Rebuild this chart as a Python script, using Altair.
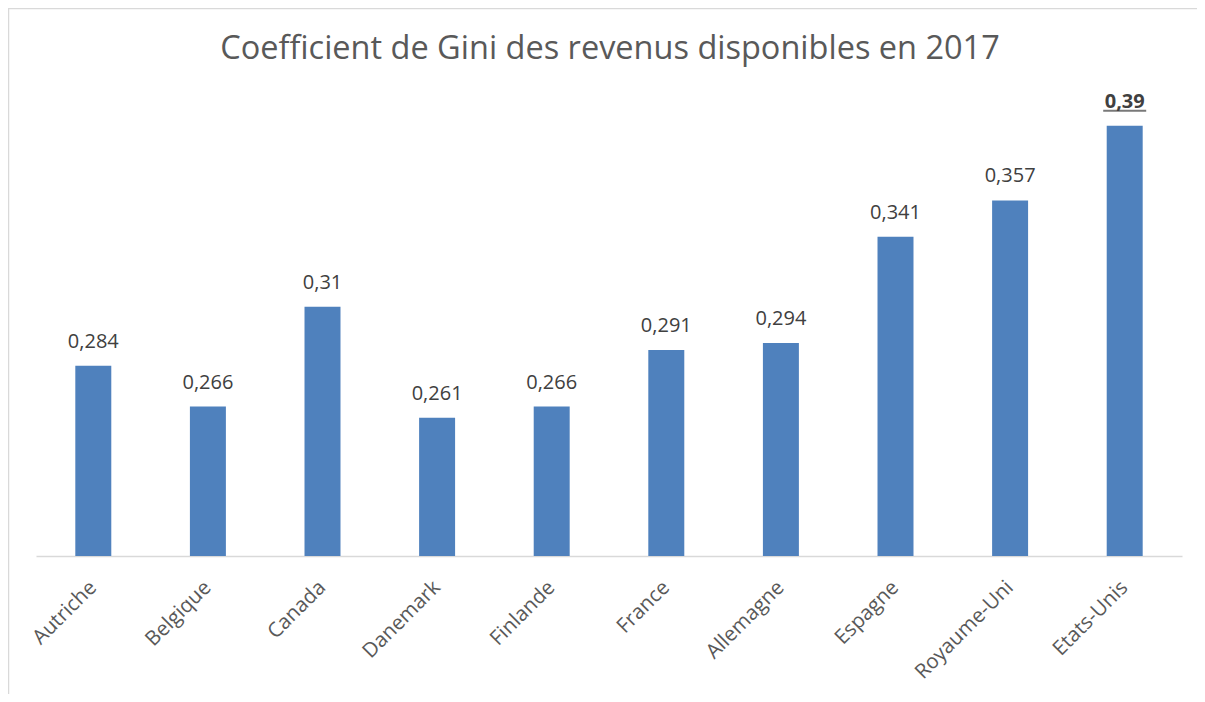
import altair as alt
import pandas as pd

countries = ["Autriche", "Belgique", "Canada", "Danemark", "Finlande",
             "France", "Allemagne", "Espagne", "Royaume-Uni", "Etats-Unis"]
gini = [0.284, 0.266, 0.31, 0.261, 0.266, 0.291, 0.294, 0.341, 0.357, 0.39]
labels = ["0,284", "0,266", "0,31", "0,261", "0,266", "0,291", "0,294", "0,341", "0,357", "0,39"]
highlight = [False] * 9 + [True]

df = pd.DataFrame({"pays": countries, "gini": gini, "label": labels, "hl": highlight})

FONT = "Open Sans"
W, H = 1146, 453

x = alt.X("pays:N", sort=countries, title=None,
          scale=alt.Scale(paddingInner=0.686, paddingOuter=0.343),
          axis=alt.Axis(labelAngle=-45, labelAlign="right", labelBaseline="middle",
                        labelFontSize=20.5, labelColor="#595959", labelFont=FONT,
                        labelPadding=28, ticks=False, domainColor="#D9D9D9",
                        domainWidth=1.5, grid=False))
y = alt.Y("gini:Q", scale=alt.Scale(domain=[0.2, 0.4], clamp=True, nice=False, zero=False),
          axis=None)

base = alt.Chart(df)

bars = base.mark_bar(color="#4F81BD").encode(x=x, y=y, y2=alt.datum(0.2))

txt = base.transform_filter("!datum.hl").mark_text(
    font=FONT, fontSize=20, color="#404040", baseline="alphabetic", dy=-18
).encode(x=x, y=y, text="label:N")

txt_hl = base.transform_filter("datum.hl").mark_text(
    font=FONT, fontSize=20, fontWeight="bold", color="#404040", baseline="alphabetic", dy=-18
).encode(x=x, y=y, text="label:N")

underline = base.transform_filter("datum.hl").mark_tick(
    color="#404040", size=43, thickness=2, yOffset=-15
).encode(x=x, y=y)

title = alt.Chart(pd.DataFrame({"t": ["Coefficient de Gini des revenus disponibles en 2017"]})).mark_text(
    font=FONT, fontSize=32.5, color="#595959", baseline="alphabetic", align="center"
).encode(x=alt.value(W / 2 + 1), y=alt.value(-44), text="t:N")

border_top = alt.Chart(pd.DataFrame({"a": [0]})).mark_rule(color="#D9D9D9", strokeWidth=1.5).encode(
    x=alt.value(-28), x2=alt.value(W + 15), y=alt.value(-94.5))
border_left = alt.Chart(pd.DataFrame({"a": [0]})).mark_rule(color="#D9D9D9", strokeWidth=1.5).encode(
    x=alt.value(-27.5), y=alt.value(-95), y2=alt.value(H + 138))

chart = alt.layer(bars, txt, txt_hl, underline, title, border_top, border_left).properties(
    width=W, height=H,
    autosize=alt.AutoSizeParams(type="none"),
    padding={"left": 28, "top": 95, "right": 15, "bottom": 138},
    background="white",
).configure_view(stroke=None)

chart.save("out.html", embed_options={"renderer": "svg", "actions": False})
